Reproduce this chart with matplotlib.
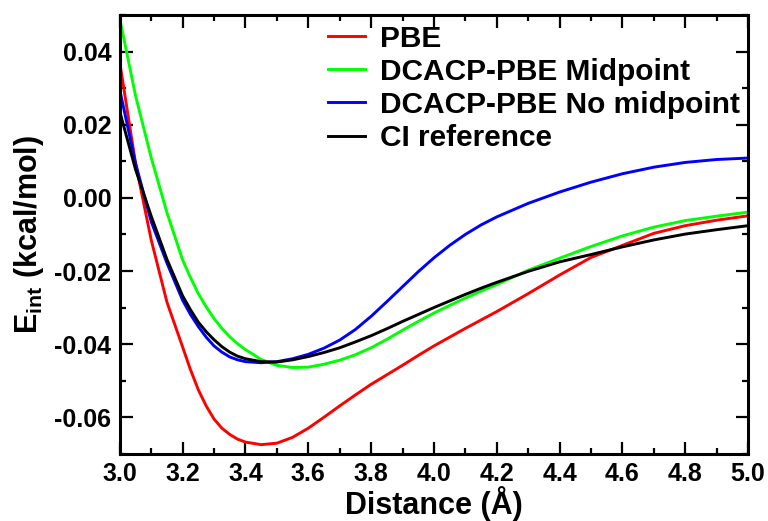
import matplotlib
matplotlib.use("Agg")
import matplotlib.pyplot as plt
from matplotlib.ticker import MultipleLocator, FormatStrFormatter

plt.rcParams['font.family'] = ['Liberation Sans', 'DejaVu Sans']
plt.rcParams['font.weight'] = 'bold'
plt.rcParams['axes.unicode_minus'] = False
plt.rcParams['mathtext.fontset'] = 'custom'
plt.rcParams['mathtext.rm'] = 'Liberation Sans:bold'
plt.rcParams['mathtext.bf'] = 'Liberation Sans:bold'
plt.rcParams['mathtext.default'] = 'bf'

# distances (Angstrom)
dist = [3.0, 3.05, 3.1, 3.15, 3.2, 3.225, 3.25, 3.275, 3.3, 3.325, 3.35,
        3.375, 3.4, 3.45, 3.5, 3.55, 3.6, 3.65, 3.7, 3.75, 3.8, 3.85, 3.9,
        3.95, 4.0, 4.05, 4.1, 4.15, 4.2, 4.3, 4.4, 4.5, 4.6, 4.7, 4.8, 4.9, 5.0]

pbe = [0.0370, 0.0095, -0.0115, -0.0285, -0.0408, -0.0470, -0.0525, -0.0569,
       -0.0605, -0.0630, -0.0647, -0.0660, -0.0668, -0.0675, -0.0671, -0.0655,
       -0.0630, -0.0600, -0.0569, -0.0539, -0.0510, -0.0484, -0.0458, -0.0431,
       -0.0405, -0.0381, -0.0357, -0.0334, -0.0311, -0.0262, -0.0211, -0.0163,
       -0.0130, -0.0097, -0.0076, -0.0061, -0.0049]

dcacp_mid = [0.0490, 0.0280, 0.0110, -0.0040, -0.0170, -0.0218, -0.0262,
             -0.0298, -0.0330, -0.0357, -0.0380, -0.0399, -0.0415, -0.0442,
             -0.0458, -0.0464, -0.0463, -0.0455, -0.0444, -0.0429, -0.0410,
             -0.0387, -0.0362, -0.0338, -0.0315, -0.0294, -0.0274, -0.0255,
             -0.0237, -0.0198, -0.0165, -0.0133, -0.0104, -0.0080, -0.0062,
             -0.0050, -0.0039]

dcacp_nomid = [0.0295, 0.0095, -0.0065, -0.0178, -0.0280, -0.0319, -0.0352,
               -0.0381, -0.0405, -0.0422, -0.0435, -0.0443, -0.0448, -0.0451,
               -0.0448, -0.0440, -0.0428, -0.0411, -0.0389, -0.0360, -0.0324,
               -0.0284, -0.0243, -0.0202, -0.0164, -0.0130, -0.0100, -0.0074,
               -0.0052, -0.0015, 0.0016, 0.0043, 0.0066, 0.0084, 0.0097, 0.0105,
               0.0109]

ci_ref = [0.0236, 0.0078, -0.0050, -0.0168, -0.0268, -0.0306, -0.0340,
          -0.0366, -0.0388, -0.0407, -0.0422, -0.0433, -0.0440, -0.0448,
          -0.0449, -0.0443, -0.0434, -0.0423, -0.0410, -0.0394, -0.0377,
          -0.0358, -0.0338, -0.0319, -0.0300, -0.0282, -0.0264, -0.0247,
          -0.0231, -0.0201, -0.0175, -0.0155, -0.0134, -0.0115, -0.0099,
          -0.0087, -0.0076]

fig = plt.figure(figsize=(7.68, 5.21), dpi=100)
ax = fig.add_axes([0.156, 0.129, 0.818, 0.842])

lw = 2.1
ax.plot(dist, pbe, color='#ff0000', lw=lw, label='PBE')
ax.plot(dist, dcacp_mid, color='#00ff00', lw=lw, label='DCACP-PBE Midpoint')
ax.plot(dist, dcacp_nomid, color='#0000ff', lw=lw, label='DCACP-PBE No midpoint')
ax.plot(dist, ci_ref, color='black', lw=lw, label='CI reference')

ax.set_xlim(3.0, 5.0)
ax.set_ylim(-0.07, 0.05)
ax.xaxis.set_major_locator(MultipleLocator(0.2))
ax.xaxis.set_minor_locator(MultipleLocator(0.1))
ax.yaxis.set_major_locator(MultipleLocator(0.02))
ax.yaxis.set_minor_locator(MultipleLocator(0.01))
ax.xaxis.set_major_formatter(FormatStrFormatter('%.1f'))
ax.yaxis.set_major_formatter(FormatStrFormatter('%.2f'))

ax.tick_params(which='both', direction='in', top=True, right=True, width=1.6,
               labelsize=18)
ax.tick_params(which='major', length=9, pad=6)
ax.tick_params(which='minor', length=4.5)
for s in ax.spines.values():
    s.set_linewidth(2.2)

ax.set_xlabel('Distance (Å)', fontsize=22, fontweight='bold', labelpad=0)
ax.set_ylabel('E$_{int}$ (kcal/mol)', fontsize=22, fontweight='bold', labelpad=6)

ax.legend(loc='upper left', bbox_to_anchor=(0.331, 0.978), frameon=False,
          fontsize=21.5, handlelength=1.24, handletextpad=0.5, labelspacing=0.17,
          borderaxespad=0.0, borderpad=0.0)

fig.savefig('out.png', dpi=100)
